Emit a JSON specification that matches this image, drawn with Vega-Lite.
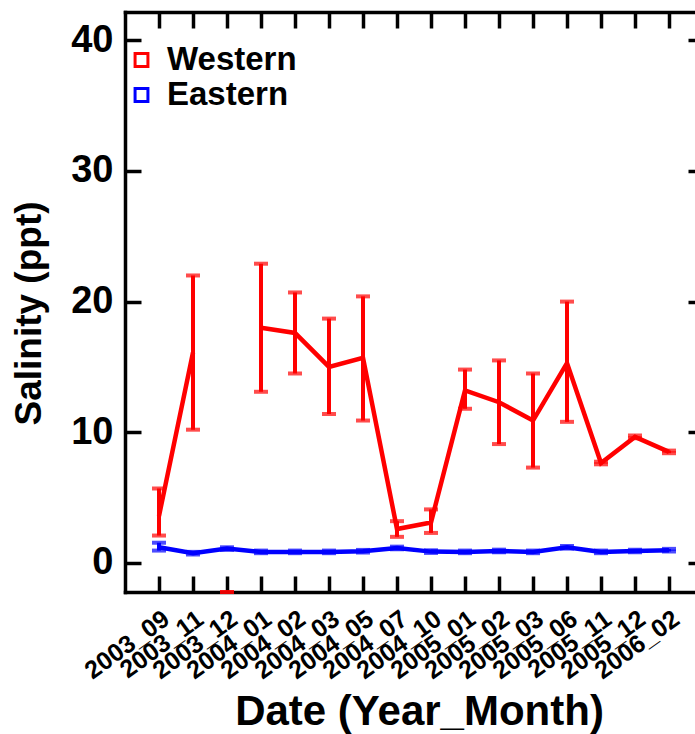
{
  "$schema": "https://vega.github.io/schema/vega-lite/v6.json",
  "width": 570,
  "height": 580,
  "autosize": {"type": "none"},
  "padding": {"left": 125, "top": 12, "right": 0, "bottom": 142},
  "background": "white",
  "config": {
    "view": {"stroke": null},
    "font": "Liberation Sans",
    "axis": {
      "grid": false,
      "domainColor": "black",
      "domainWidth": 3.5,
      "domainCap": "square",
      "tickColor": "black",
      "tickWidth": 3.5,
      "tickSize": -16,
      "labelFont": "Liberation Sans",
      "labelFontWeight": "bold",
      "labelColor": "black",
      "titleFont": "Liberation Sans",
      "titleFontWeight": "bold",
      "titleColor": "black"
    }
  },
  "data": {
    "values": [
      {"date": "2003_09", "site": "Western", "mean": 3.6, "lo": 2.1, "hi": 5.7},
      {"date": "2003_11", "site": "Western", "mean": 16.1, "lo": 10.2, "hi": 22.0},
      {"date": "2003_12", "site": "Western", "mean": null, "lo": -2.22, "hi": -2.22},
      {"date": "2004_01", "site": "Western", "mean": 18.0, "lo": 13.1, "hi": 22.9},
      {"date": "2004_02", "site": "Western", "mean": 17.6, "lo": 14.5, "hi": 20.7},
      {"date": "2004_03", "site": "Western", "mean": 15.0, "lo": 11.4, "hi": 18.7},
      {"date": "2004_05", "site": "Western", "mean": 15.7, "lo": 10.9, "hi": 20.4},
      {"date": "2004_07", "site": "Western", "mean": 2.6, "lo": 2.0, "hi": 3.2},
      {"date": "2004_10", "site": "Western", "mean": 3.1, "lo": 2.3, "hi": 4.1},
      {"date": "2005_01", "site": "Western", "mean": 13.2, "lo": 11.8, "hi": 14.8},
      {"date": "2005_02", "site": "Western", "mean": 12.3, "lo": 9.1, "hi": 15.5},
      {"date": "2005_03", "site": "Western", "mean": 10.9, "lo": 7.3, "hi": 14.5},
      {"date": "2005_06", "site": "Western", "mean": 15.3, "lo": 10.8, "hi": 20.0},
      {"date": "2005_11", "site": "Western", "mean": 7.65, "lo": 7.55, "hi": 7.75},
      {"date": "2005_12", "site": "Western", "mean": 9.65, "lo": 9.55, "hi": 9.75},
      {"date": "2006_02", "site": "Western", "mean": 8.5, "lo": 8.4, "hi": 8.6},
      {"date": "2003_09", "site": "Eastern", "mean": 1.2, "lo": 0.95, "hi": 1.55},
      {"date": "2003_11", "site": "Eastern", "mean": 0.75, "lo": 0.65, "hi": 0.85},
      {"date": "2003_12", "site": "Eastern", "mean": 1.1, "lo": 1.0, "hi": 1.2},
      {"date": "2004_01", "site": "Eastern", "mean": 0.85, "lo": 0.75, "hi": 0.95},
      {"date": "2004_02", "site": "Eastern", "mean": 0.85, "lo": 0.75, "hi": 0.95},
      {"date": "2004_03", "site": "Eastern", "mean": 0.85, "lo": 0.75, "hi": 0.95},
      {"date": "2004_05", "site": "Eastern", "mean": 0.9, "lo": 0.8, "hi": 1.0},
      {"date": "2004_07", "site": "Eastern", "mean": 1.15, "lo": 1.05, "hi": 1.25},
      {"date": "2004_10", "site": "Eastern", "mean": 0.87, "lo": 0.77, "hi": 0.97},
      {"date": "2005_01", "site": "Eastern", "mean": 0.85, "lo": 0.75, "hi": 0.95},
      {"date": "2005_02", "site": "Eastern", "mean": 0.92, "lo": 0.82, "hi": 1.02},
      {"date": "2005_03", "site": "Eastern", "mean": 0.85, "lo": 0.75, "hi": 0.95},
      {"date": "2005_06", "site": "Eastern", "mean": 1.2, "lo": 1.1, "hi": 1.3},
      {"date": "2005_11", "site": "Eastern", "mean": 0.85, "lo": 0.75, "hi": 0.95},
      {"date": "2005_12", "site": "Eastern", "mean": 0.92, "lo": 0.82, "hi": 1.02},
      {"date": "2006_02", "site": "Eastern", "mean": 0.98, "lo": 0.88, "hi": 1.08}
    ]
  },
  "layer": [
    {
      "mark": {"type": "line", "strokeWidth": 4.5, "invalid": "break-paths-filter-domains"},
      "encoding": {
        "x": {
          "field": "date", "type": "nominal", "sort": null,
          "scale": {"type": "point", "padding": 0.8825, "align": 0.5666},
          "axis": {
            "orient": "bottom",
            "title": "Date (Year_Month)",
            "titleFontSize": 42,
            "titlePadding": 8,
            "titleX": 294,
            "labelAngle": -36,
            "labelAlign": "right",
            "labelBaseline": "top",
            "labelFontSize": 25,
            "labelPadding": 30,
            "labelOverlap": false,
            "labelBound": false,
            "labelFlush": false
          }
        },
        "y": {
          "field": "mean", "type": "quantitative",
          "scale": {"domain": [-2.22, 42.16], "nice": false, "zero": false},
          "axis": {
            "orient": "left",
            "values": [0, 10, 20, 30, 40],
            "title": "Salinity (ppt)",
            "titleFontSize": 37,
            "titlePadding": 22,
            "titleY": 301,
            "labelFontSize": 38,
            "labelPadding": 28
          }
        },
        "color": {
          "field": "site", "type": "nominal",
          "scale": {"domain": ["Western", "Eastern"], "range": ["#ff0000", "#0000ff"]},
          "legend": {
            "title": null,
            "orient": "none",
            "legendX": 0,
            "legendY": 33,
            "padding": 0,
            "symbolType": "square",
            "symbolSize": 165,
            "symbolStrokeWidth": 3,
            "symbolFillColor": "white",
            "labelFont": "Liberation Sans",
            "labelFontWeight": "bold",
            "labelFontSize": 33,
            "labelColor": "black",
            "labelOffset": 9,
            "clipHeight": 30
          }
        }
      }
    },
    {
      "mark": {"type": "rule", "strokeWidth": 4},
      "encoding": {
        "x": {"field": "date", "type": "nominal", "sort": null, "scale": {"type": "point", "padding": 0.8825, "align": 0.5666}, "axis": null},
        "y": {"field": "lo", "type": "quantitative", "scale": {"domain": [-2.22, 42.16], "nice": false, "zero": false}, "axis": null},
        "y2": {"field": "hi"},
        "color": {"field": "site", "type": "nominal", "legend": null}
      }
    },
    {
      "mark": {"type": "tick", "size": 14, "thickness": 4},
      "encoding": {
        "x": {"field": "date", "type": "nominal", "sort": null, "scale": {"type": "point", "padding": 0.8825, "align": 0.5666}, "axis": null},
        "y": {"field": "lo", "type": "quantitative", "scale": {"domain": [-2.22, 42.16], "nice": false, "zero": false}, "axis": null},
        "fill": {"field": "site", "type": "nominal", "scale": {"domain": ["Eastern", "Western"], "range": ["#0000ff", "#ff0000"]}, "legend": null}
      }
    },
    {
      "mark": {"type": "tick", "size": 14, "thickness": 4},
      "encoding": {
        "x": {
          "field": "date", "type": "nominal", "sort": null,
          "scale": {"type": "point", "padding": 0.8825, "align": 0.5666},
          "axis": {"orient": "top", "labels": false, "title": null, "tickSize": -16}
        },
        "y": {
          "field": "hi", "type": "quantitative",
          "scale": {"domain": [-2.22, 42.16], "nice": false, "zero": false},
          "axis": {"orient": "right", "labels": false, "title": null, "domain": false, "tickSize": -7, "values": [0, 10, 20, 30, 40]}
        },
        "fill": {"field": "site", "type": "nominal", "scale": {"domain": ["Eastern", "Western"], "range": ["#0000ff", "#ff0000"]}, "legend": null}
      }
    }
  ],
  "resolve": {"axis": {"x": "independent", "y": "independent"}}
}
